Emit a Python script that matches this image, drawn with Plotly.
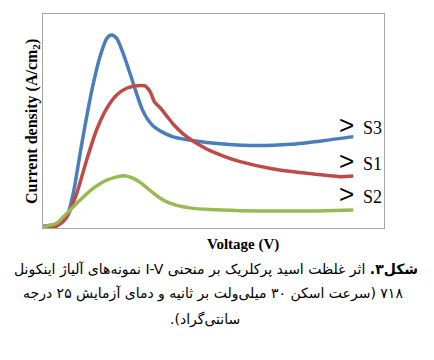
import plotly.graph_objects as go

# Data (arbitrary units)
x_s3 = [0.1, 3.0, 5.0, 7.0, 8.9, 10.9, 12.8, 14.8, 16.7, 18.7, 20.1, 21.6, 23.5, 25.5, 27.5, 29.0, 30.6, 32.5, 35.0, 38.2, 44.1, 52.9, 62.7, 72.4, 82.2, 91.0]
y_s3 = [0.9, 1.4, 1.9, 5.3, 16.4, 35.0, 52.0, 67.8, 80.0, 88.6, 90.2, 88.6, 81.6, 72.3, 62.5, 55.8, 51.0, 47.4, 44.8, 42.6, 40.8, 39.3, 38.5, 39.1, 40.8, 42.7]

x_s1 = [0, 4.0, 7.0, 9.9, 12.8, 15.7, 18.7, 21.6, 24.5, 27.5, 29.9, 31.4, 32.8, 34.3, 36.3, 38.2, 41.1, 44.1, 48.0, 52.9, 57.8, 67.5, 77.3, 87.1, 91.0]
y_s1 = [0.6, 0.9, 5.3, 16.2, 31.8, 45.8, 55.9, 62.1, 65.3, 66.5, 66.4, 63.7, 58.6, 56.3, 52.3, 48.5, 44.0, 40.5, 36.9, 33.6, 31.0, 27.6, 25.6, 24.0, 24.3]

x_s2 = [0, 4.0, 7.0, 10.9, 14.8, 18.7, 23.5, 26.5, 28.5, 30.4, 32.3, 34.3, 36.3, 39.2, 43.1, 49.0, 57.8, 67.5, 80.0, 91.0]
y_s2 = [0.6, 2.2, 6.9, 13.1, 18.6, 22.4, 24.4, 23.2, 21.3, 18.9, 16.4, 14.0, 12.2, 10.6, 9.4, 8.6, 8.1, 7.9, 8.0, 8.4]

series_names = ["S3", "S1", "S2"]
label_y = [46.7, 30.0, 14.5]

x_title = "Voltage (V)"
y_title = "Current density (A/cm<sub>2</sub>)"
caption_lines = [
    "<b>شکل۳.</b> اثر غلظت اسید پرکلریک بر منحنی I-V نمونه‌های آلیاژ اینکونل",
    "۷۱۸ (سرعت اسکن ۳۰ میلی‌ولت بر ثانیه و دمای آزمایش ۲۵ درجه",
    "سانتی‌گراد).",
]

colors = ["#4A7EBB", "#BE4B48", "#98B954"]

fig = go.Figure()
for xs, ys, name, c in [(x_s3, y_s3, "S3", colors[0]), (x_s1, y_s1, "S1", colors[1]), (x_s2, y_s2, "S2", colors[2])]:
    fig.add_trace(go.Scatter(x=xs, y=ys, mode="lines", name=name,
                             line=dict(color=c, width=3.5, shape="spline", smoothing=0.7)))

serif = "Liberation Serif, Times New Roman, serif"
ann = []
for name, ly in zip(series_names, label_y):
    ann.append(dict(x=89.1, y=ly + 1.3, xref="x", yref="y", text="&gt;", showarrow=False,
                    font=dict(family="Liberation Sans, Arial", size=26, color="black"),
                    xanchor="center", yanchor="middle"))
    ann.append(dict(x=93.3, y=ly, xref="x", yref="y", text=name, showarrow=False,
                    font=dict(family=serif, size=18, color="black"),
                    xanchor="left", yanchor="middle"))

ann.append(dict(x=(32 - 43) / 341, y=(228 - 122) / 214, xref="paper", yref="paper", text="<b>" + y_title + "</b>",
                textangle=-90, showarrow=False, font=dict(family=serif, size=16, color="black"),
                xanchor="center", yanchor="middle"))
ann.append(dict(x=(243 - 43) / 341, y=(228 - 244) / 214, xref="paper", yref="paper", text="<b>" + x_title + "</b>",
                showarrow=False, font=dict(family=serif, size=15, color="black"),
                xanchor="center", yanchor="middle"))

cap_pos = [(216, 269), (213, 293), (205, 319)]
for line, (px, py) in zip(caption_lines, cap_pos):
    ann.append(dict(x=(px - 43) / 341, y=(228 - py) / 214, xref="paper", yref="paper",
                    text="\u202B" + line + "\u202C", showarrow=False,
                    font=dict(family="DejaVu Sans, serif", size=14, color="black"),
                    xanchor="center", yanchor="middle"))

fig.update_layout(
    width=434, height=360,
    margin=dict(l=43, r=50, t=14, b=132),
    paper_bgcolor="white", plot_bgcolor="white",
    showlegend=False,
    annotations=ann,
    xaxis=dict(range=[0, 100], showgrid=False, zeroline=False, showticklabels=False, ticks="",
               showline=True, linecolor="#A6A6A6", linewidth=1, mirror=True),
    yaxis=dict(range=[0, 100], showgrid=False, zeroline=False, showticklabels=False, ticks="",
               showline=True, linecolor="#A6A6A6", linewidth=1, mirror=True),
)

fig.write_html("out.html")
